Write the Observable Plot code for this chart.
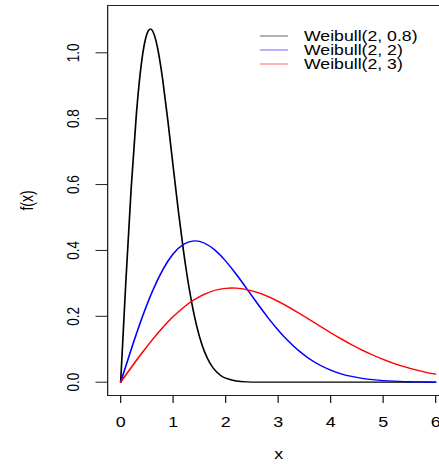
<!DOCTYPE html>
<html><head><meta charset="utf-8">
<script src="https://cdn.jsdelivr.net/npm/d3@7"></script>
<script src="https://cdn.jsdelivr.net/npm/@observablehq/plot@0.6"></script>
<style>
html,body{margin:0;padding:0;background:#fff;}
#chart svg{display:block;}
</style>
</head><body><div id="chart"></div>
<script>
// ---- data ----
const seriesNames = ["Weibull(2, 0.8)", "Weibull(2, 2)", "Weibull(2, 3)"];
const seriesColors = ["#000000", "#0000ff", "#ff0000"];
const xBlack = [0,0.1,0.2,0.3,0.4,0.5,0.6,0.7,0.8,0.9,1.0,1.1,1.2,1.3,1.4,1.5,1.6,1.7,1.8,1.9,2.0,2.2,2.4,2.6,3,4,5,6];
const yBlack = [0,0.3077,0.5871,0.8145,0.9735,1.0572,1.0683,1.0173,0.9197,0.7933,0.6550,0.5189,0.3953,0.2897,0.2046,0.1394,0.0916,0.0581,0.0356,0.0211,0.0121,0.0036,0.0009,0.0002,0,0,0,0];
const xGrid = [0,0.2,0.4,0.6,0.8,1.0,1.2,1.4,1.6,1.8,2.0,2.2,2.4,2.6,2.8,3.0,3.2,3.4,3.6,3.8,4.0,4.2,4.4,4.6,4.8,5.0,5.2,5.4,5.6,5.8,6.0];
const yBlue = [0,0.0990,0.1922,0.2742,0.3409,0.3894,0.4186,0.4288,0.4218,0.4004,0.3679,0.3280,0.2843,0.2399,0.1972,0.1581,0.1237,0.0945,0.0705,0.0514,0.0366,0.0255,0.0174,0.0116,0.0076,0.0048,0.0030,0.0018,0.0011,0.0006,0.0004];
const yRed = [0,0.0443,0.0873,0.1281,0.1656,0.1989,0.2272,0.2502,0.2675,0.2791,0.2850,0.2855,0.2812,0.2726,0.2604,0.2453,0.2279,0.2091,0.1895,0.1697,0.1502,0.1315,0.1138,0.0974,0.0825,0.0691,0.0573,0.0470,0.0382,0.0307,0.0244];
const xTicks = [0,1,2,3,4,5,6];
const yTicks = [0,0.2,0.4,0.6,0.8,1.0];
const xLabel = "x";
const yLabel = "f(x)";

// ---- table for Plot ----
const rows = [];
xBlack.forEach((x, i) => rows.push({s: seriesNames[0], x, y: yBlack[i]}));
xGrid.forEach((x, i) => rows.push({s: seriesNames[1], x, y: yBlue[i]}));
xGrid.forEach((x, i) => rows.push({s: seriesNames[2], x, y: yRed[i]}));

const STRETCH = 1.28;           // the reference is horizontally stretched
const W = 439 / STRETCH;
const FONT = "'Liberation Sans', Arial, Helvetica, sans-serif";

const plot = Plot.plot({
  width: W, height: 464,
  marginLeft: 83.6, marginRight: 0, marginTop: 5, marginBottom: 69,
  style: {fontFamily: FONT, fontSize: "13.5px", color: "#000", background: "#fff"},
  x: {domain: [-0.2475, 6.076]},
  y: {domain: [-0.0404, 1.1436]},
  color: {domain: seriesNames, range: seriesColors},
  marks: [
    Plot.frame({anchor: "left", stroke: "#222"}),
    Plot.frame({anchor: "top", stroke: "#222"}),
    Plot.frame({anchor: "bottom", stroke: "#222"}),
    Plot.axisX({ticks: xTicks, tickSize: 8, tickPadding: 14, label: null, fontSize: 14,
                tickFormat: d3.format("d"), stroke: "#222"}),
    Plot.axisY({ticks: yTicks, tickSize: 9, tickPadding: 17.6, tickRotate: -90,
                textAnchor: "middle", lineAnchor: "middle",
                tickFormat: d3.format(".1f"), label: null, fontSize: 13.5, stroke: "#222"}),
    Plot.line(rows, {x: "x", y: "y", z: "s", stroke: "s", strokeWidth: 1.3, curve: "natural"}),
    Plot.text([yLabel], {frameAnchor: "left", dx: -62.6, rotate: -90, text: d => d,
                         fontSize: 14, textAnchor: "middle", lineAnchor: "middle"}),
    Plot.text([xLabel], {frameAnchor: "bottom", dx: 4, dy: 59, text: d => d,
                         fontSize: 14, textAnchor: "middle", lineAnchor: "middle"})
  ]
});

// legend (internal, unstretched coordinates)
const svg = d3.select(plot);
const lg = svg.append("g").attr("font-family", FONT).attr("font-size", 13.8)
  .attr("text-anchor", "start");
const legY = [36, 50, 64];
seriesNames.forEach((name, i) => {
  lg.append("line").attr("x1", 203).attr("x2", 225).attr("y1", legY[i]).attr("y2", legY[i])
    .attr("stroke", seriesColors[i]).attr("stroke-width", 1).attr("opacity", 0.6);
  lg.append("text").attr("x", 237.5).attr("y", legY[i] + 5).attr("fill", "#000")
    .attr("text-anchor", "start").text(name);
});

plot.setAttribute("width", 439);
plot.setAttribute("height", 464);
plot.setAttribute("preserveAspectRatio", "none");
plot.style.width = "439px";
plot.style.height = "464px";
plot.style.maxWidth = "none";
document.getElementById("chart").appendChild(plot);
</script>
</body></html>
